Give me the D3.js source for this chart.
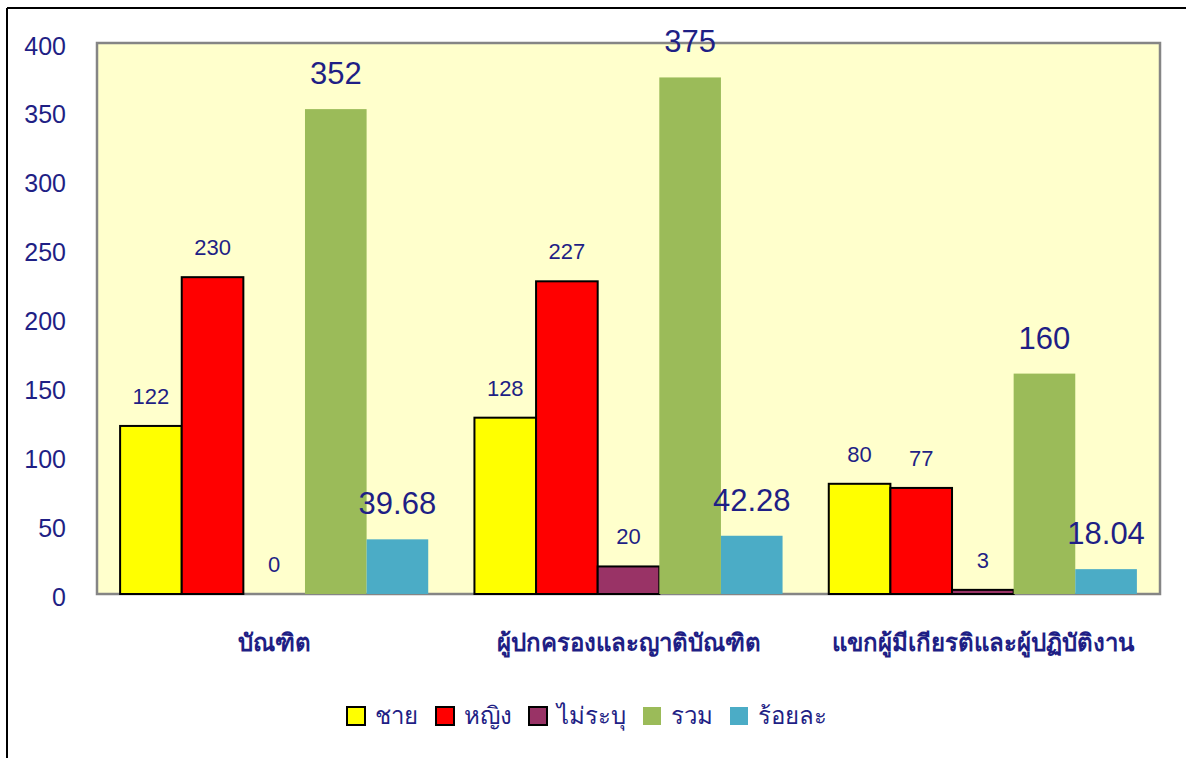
<!DOCTYPE html>
<html lang="th">
<head>
<meta charset="UTF-8">
<title>bar chart</title>
<script src="https://d3js.org/d3.v7.min.js"></script>
<style>
    body { margin: 0; background: #fff; }
    svg text { font-family: Tahoma, "DejaVu Sans", "Noto Sans", sans-serif; fill: #1f1f85; }
    svg text.num { font-family: "Liberation Sans", Arial, sans-serif; }
</style>
</head>
<body>
<svg id="chart" width="1186" height="758"></svg>
<script>
    // data
    const categories = ["บัณฑิต", "ผู้ปกครองและญาติบัณฑิต", "แขกผู้มีเกียรติและผู้ปฏิบัติงาน"];
    const seriesNames = ["ชาย", "หญิง", "ไม่ระบุ", "รวม", "ร้อยละ"];
    const male = [122, 128, 80];
    const female = [230, 227, 77];
    const unspecified = [0, 20, 3];
    const total = [352, 375, 160];
    const percent = [39.68, 42.28, 18.04];
    const yTicks = [0, 50, 100, 150, 200, 250, 300, 350, 400];

    const colors = ["#ffff00", "#ff0000", "#993366", "#9bbb59", "#4bacc6"];
    const outlined = [true, true, true, false, false];
    const bigLabel = [false, false, false, true, true];

    const seriesValues = [male, female, unspecified, total, percent];

    const plot = {left: 97, right: 1160, top: 43, bottom: 594};

    const svg = d3.select("#chart");

    // outer frame (only top and left are visible in the picture)
    svg.append("line").attr("x1", 7).attr("x2", 1186).attr("y1", 8).attr("y2", 8)
        .attr("stroke", "#000").attr("stroke-width", 2);
    svg.append("line").attr("x1", 7).attr("x2", 7).attr("y1", 8).attr("y2", 758)
        .attr("stroke", "#000").attr("stroke-width", 2);

    let y = d3.scaleLinear().domain([0, 400]).range([plot.bottom, plot.top]);

    let x0 = d3.scaleBand().domain(categories).range([plot.left, plot.right]).padding(0);
    let x1 = d3.scaleBand().domain(seriesNames).range([0, x0.bandwidth()])
        .paddingInner(0).paddingOuter(0.375);

    // plot area
    svg.append("rect")
        .attr("x", plot.left).attr("y", plot.top)
        .attr("width", plot.right - plot.left).attr("height", plot.bottom - plot.top)
        .attr("fill", "#ffffcc").attr("stroke", "#858585").attr("stroke-width", 2.5);

    // y axis labels
    let yAxis = d3.axisLeft(y).tickValues(yTicks).tickSize(0).tickPadding(0);
    svg.append("g")
        .attr("transform", "translate(66,3)")
        .call(yAxis)
        .call(g => g.select(".domain").remove())
        .selectAll("text")
        .attr("class", "num")
        .style("font-size", "25px")
        .attr("fill", "#1f1f85");

    // bars
    let rows = [];
    categories.forEach((c, i) => {
        seriesNames.forEach((s, j) => {
            rows.push({cat: c, ser: s, j: j, value: seriesValues[j][i]});
        });
    });

    let groups = svg.append("g");
    groups.selectAll("rect.bar")
        .data(rows)
        .join("rect")
        .attr("class", "bar")
        .attr("x", d => x0(d.cat) + x1(d.ser))
        .attr("y", d => y(d.value))
        .attr("width", x1.bandwidth())
        .attr("height", d => y(0) - y(d.value))
        .attr("fill", d => colors[d.j])
        .attr("stroke", d => outlined[d.j] ? "#000" : "none")
        .attr("stroke-width", 2);

    // value labels
    groups.selectAll("text.val")
        .data(rows)
        .join("text")
        .attr("class", "val num")
        .attr("x", d => x0(d.cat) + x1(d.ser) + x1.bandwidth() / 2)
        .attr("y", d => y(d.value) - (bigLabel[d.j] ? 25 : 22))
        .attr("text-anchor", "middle")
        .style("font-size", d => bigLabel[d.j] ? "31px" : "22px")
        .text(d => d.value);

    // category labels
    svg.append("g").selectAll("text")
        .data(categories)
        .join("text")
        .attr("x", d => x0(d) + x0.bandwidth() / 2)
        .attr("y", 651)
        .attr("text-anchor", "middle")
        .style("font-size", "24px")
        .style("font-weight", "bold")
        .text(d => d);

    // legend
    const legendX = [347, 436, 529, 643, 730];
    let legend = svg.append("g").selectAll("g")
        .data(seriesNames)
        .join("g")
        .attr("transform", (d, i) => `translate(${legendX[i]},707)`);
    legend.append("rect")
        .attr("width", 18).attr("height", 18)
        .attr("fill", (d, i) => colors[i])
        .attr("stroke", (d, i) => outlined[i] ? "#000" : "none")
        .attr("stroke-width", 2);
    legend.append("text")
        .attr("x", 28).attr("y", 17)
        .style("font-size", "24px")
        .text(d => d);
</script>
</body>
</html>
